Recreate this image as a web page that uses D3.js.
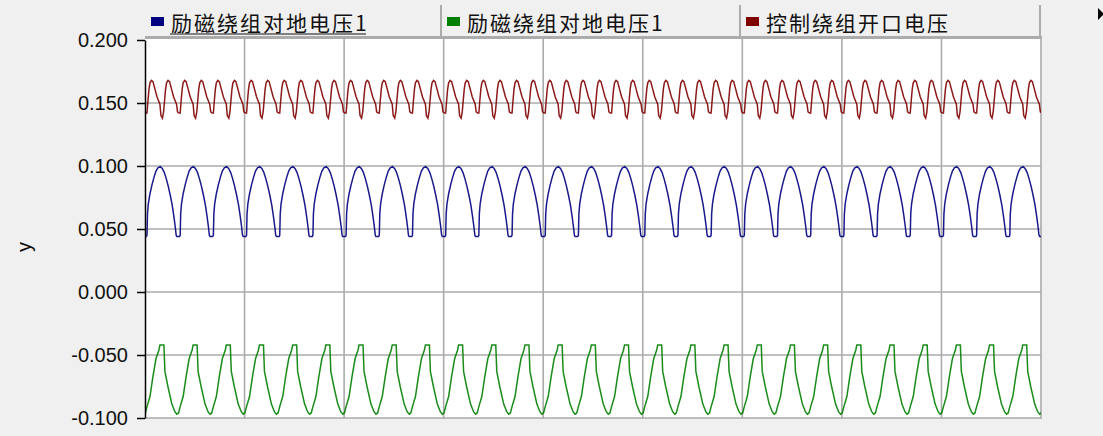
<!DOCTYPE html>
<html>
<head>
<meta charset="UTF-8">
<script src="https://cdnjs.cloudflare.com/ajax/libs/d3/7.8.5/d3.min.js"></script>
<style>
  * { margin: 0; padding: 0; }
  body { background: #f0f0f0; overflow: hidden; }
  svg { display: block; }
</style>
</head>
<body>
<div id="chart"></div>
<script>
// series / legend
const seriesNames = ["励磁绕组对地电压1", "励磁绕组对地电压1", "控制绕组开口电压"];
const seriesColors = ["#000080", "#008000", "#800000"];

// y ticks, x grid (seconds)
const yTicks = [0.200, 0.150, 0.100, 0.050, 0.000, -0.050, -0.100];
const xGrid = [0.06, 0.12, 0.18, 0.24, 0.30, 0.36, 0.42, 0.48, 0.54];
const xDomain = [0, 0.54];

// one 20 ms cycle of each trace: [phase in cycle, value]
const period = 0.02;
const firstRise = 0.0012;
const cycleCount = 27;
const blueCycle = [
  [0.000, 0.045], [0.015, 0.062], [0.040, 0.070], [0.090, 0.078], [0.150, 0.085],
  [0.210, 0.091], [0.270, 0.096], [0.330, 0.0985], [0.400, 0.0995], [0.460, 0.098],
  [0.520, 0.095], [0.580, 0.090], [0.640, 0.084], [0.700, 0.077], [0.760, 0.069],
  [0.810, 0.060], [0.850, 0.052], [0.880, 0.045], [0.900, 0.044], [0.980, 0.044]
];
const greenCycle = [
  [0.000, -0.091], [0.090, -0.083], [0.180, -0.067], [0.270, -0.053], [0.360, -0.046],
  [0.390, -0.042], [0.510, -0.042], [0.540, -0.063], [0.630, -0.075], [0.750, -0.089],
  [0.840, -0.095], [0.900, -0.097], [0.950, -0.096]
];
const redCycle = [
  [0.000, 0.142], [0.030, 0.152], [0.060, 0.161], [0.090, 0.166], [0.135, 0.168],
  [0.180, 0.167], [0.240, 0.161], [0.300, 0.155], [0.360, 0.151], [0.390, 0.149],
  [0.420, 0.140], [0.465, 0.138],
  [0.500, 0.143], [0.530, 0.152], [0.560, 0.161], [0.590, 0.166], [0.635, 0.168],
  [0.680, 0.167], [0.740, 0.161], [0.800, 0.155], [0.860, 0.151], [0.890, 0.149],
  [0.920, 0.143], [0.965, 0.142]
];

function tile(cycle) {
  const pts = [];
  for (let k = -1; k <= cycleCount; k++) {
    cycle.forEach(([ph, v]) => pts.push({ t: firstRise + (k + ph) * period, v }));
  }
  return pts;
}
const series = [tile(blueCycle), tile(greenCycle), tile(redCycle)];

const width = 1103, height = 436;
const plotL = 145, plotR = 1041, plotT = 40, plotB = 418;

const svg = d3.select("#chart").append("svg").attr("width", width).attr("height", height);

const x = d3.scaleLinear().domain(xDomain).range([plotL, plotR]);
const y = d3.scaleLinear().domain([-0.1, 0.2]).range([plotB, plotT]);

// plot background
svg.append("rect").attr("x", plotL).attr("y", 37).attr("width", plotR - plotL).attr("height", plotB - 37)
  .attr("fill", "#fff");

// grid
svg.append("g").selectAll("line").data(yTicks.filter(d => d < 0.2)).join("line")
  .attr("x1", plotL).attr("x2", plotR).attr("y1", d => y(d)).attr("y2", d => y(d))
  .attr("stroke", "#ababab").attr("stroke-width", 1.6);
svg.append("g").selectAll("line").data(xGrid).join("line")
  .attr("x1", d => x(d)).attr("x2", d => x(d)).attr("y1", 37).attr("y2", plotB + 1)
  .attr("stroke", "#ababab").attr("stroke-width", 1.6);

// traces
svg.append("clipPath").attr("id", "clip").append("rect")
  .attr("x", plotL).attr("y", 37).attr("width", plotR - plotL).attr("height", plotB - 37 + 2);
const line = d3.line().x(d => x(d.t)).y(d => y(d.v));
svg.append("g").attr("clip-path", "url(#clip)").selectAll("path").data(series).join("path")
  .attr("d", line).attr("fill", "none")
  .attr("stroke", (d, i) => seriesColors[i]).attr("stroke-width", 1.5).attr("stroke-opacity", 0.9);

// y axis
const fmt = d3.formatLocale({ decimal: ".", thousands: ",", grouping: [3], currency: ["", ""], minus: "-" }).format(".3f");
const axis = svg.append("g").attr("transform", `translate(${plotL},0)`)
  .call(d3.axisLeft(y).tickValues(yTicks).tickFormat(fmt).tickSize(8).tickSizeOuter(0).tickPadding(9));
axis.select(".domain").attr("stroke", "#000").attr("stroke-width", 1.5);
axis.selectAll(".tick line").attr("stroke", "#000").attr("stroke-width", 1.5);
axis.selectAll("text").attr("font-family", "Liberation Sans, Arial, sans-serif").attr("font-size", 20).attr("fill", "#111");

svg.append("text").attr("transform", "translate(31,247) rotate(-90)").attr("text-anchor", "middle")
  .attr("font-family", "Liberation Sans, Arial, sans-serif").attr("font-size", 20).attr("fill", "#111").text("y");

// legend bar
const cells = [145, 441, 740, 1040];
svg.append("rect").attr("x", plotL).attr("y", 36).attr("width", plotR - plotL + 1).attr("height", 3).attr("fill", "#acacac");
svg.append("g").selectAll("line").data(cells.slice(1)).join("line")
  .attr("x1", d => d).attr("x2", d => d).attr("y1", 5).attr("y2", 37)
  .attr("stroke", "#acacac").attr("stroke-width", 2);
const items = svg.append("g").selectAll("g").data(seriesNames).join("g")
  .attr("transform", (d, i) => `translate(${cells[i]},0)`);
items.append("rect").attr("x", 6).attr("y", 17).attr("width", 13).attr("height", 9)
  .attr("fill", (d, i) => seriesColors[i]);
items.append("text").attr("x", 26).attr("y", 31)
  .attr("font-family", "Noto Sans CJK SC, sans-serif").attr("font-size", 21).attr("letter-spacing", 2)
  .attr("fill", "#111").text(d => d);
svg.append("line").attr("x1", 170).attr("x2", 366).attr("y1", 34).attr("y2", 34)
  .attr("stroke", "#111").attr("stroke-width", 1);

// small arrow at top right
svg.append("path").attr("d", "M1098,8L1104,14L1098,20Z").attr("fill", "#000");
</script>
</body>
</html>
